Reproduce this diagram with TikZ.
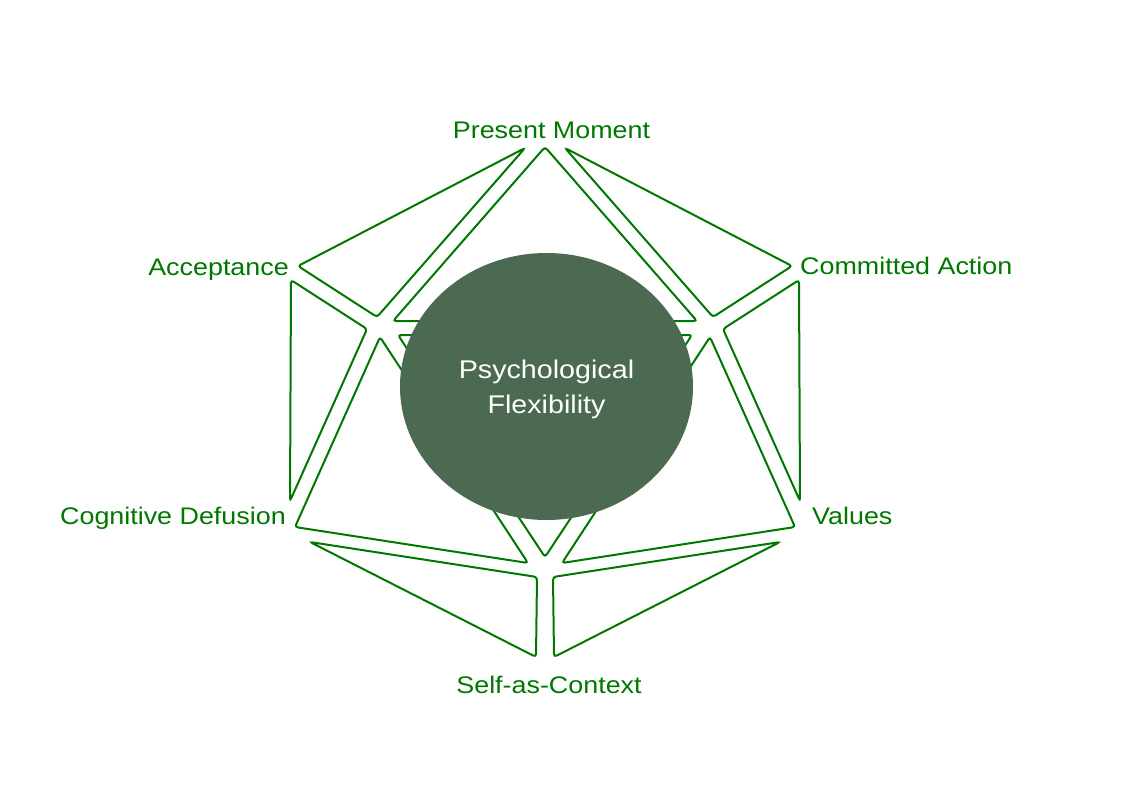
\documentclass[tikz,border=0pt]{standalone}
\usepackage{fontspec}
\setmainfont{Liberation Sans}
\usepackage{xcolor}
\usetikzlibrary{shapes.geometric}
\definecolor{flexgreen}{RGB}{0,119,0}
\definecolor{coregreen}{RGB}{75,106,81}

\begin{document}
\begin{tikzpicture}[x=1pt,y=-1pt,
  part/.style={draw=flexgreen,line width=2pt,rounded corners=3pt},
  label/.style={text=flexgreen,inner sep=0,xscale=1.12,font=\fontsize{24}{28}\selectfont}]
\useasboundingbox (0,0) rectangle (1121,793);
\draw[part] (525,148) -- (298,266) -- (377,317) -- cycle;
\draw[part] (545,147) -- (393,321) -- (697,321) -- cycle;
\draw[part] (565,148) -- (792,266) -- (713,317) -- cycle;
\draw[part] (291,280) -- (367,329) -- (290,501) -- cycle;
\draw[part] (799,280) -- (723,329) -- (800,501) -- cycle;
\draw[part] (380,337) -- (295,527) -- (528,563) -- cycle;
\draw[part] (710,337) -- (795,527) -- (562,563) -- cycle;
\draw[part] (310,542) -- (537,577) -- (536,657) -- cycle;
\draw[part] (780,542) -- (553,577) -- (554,657) -- cycle;
\draw[part] (398,335) -- (692,335) -- (545,557) -- cycle;
\node[ellipse,fill=coregreen,inner sep=0,minimum width=293pt,minimum height=267pt,
  align=center,text=white,font=\fontsize{25.6}{35}\selectfont] (core) at (546.5,386.5)
  {\rule{0pt}{24pt}\scalebox{1.12}[1]{Psychological}\\\scalebox{1.12}[1]{Flexibility}};
\node[label,anchor=base] (present) at (551.5,138) {Present Moment};
\node[label,anchor=base east] (accept) at (289,275) {Acceptance};
\node[label,anchor=base west] (commit) at (800,274) {Committed Action};
\node[label,anchor=base east] (defuse) at (286,524) {Cognitive Defusion};
\node[label,anchor=base west] (values) at (812,524) {Values};
\node[label,anchor=base] (self) at (549,693) {Self-as-Context};
\end{tikzpicture}
\end{document}
